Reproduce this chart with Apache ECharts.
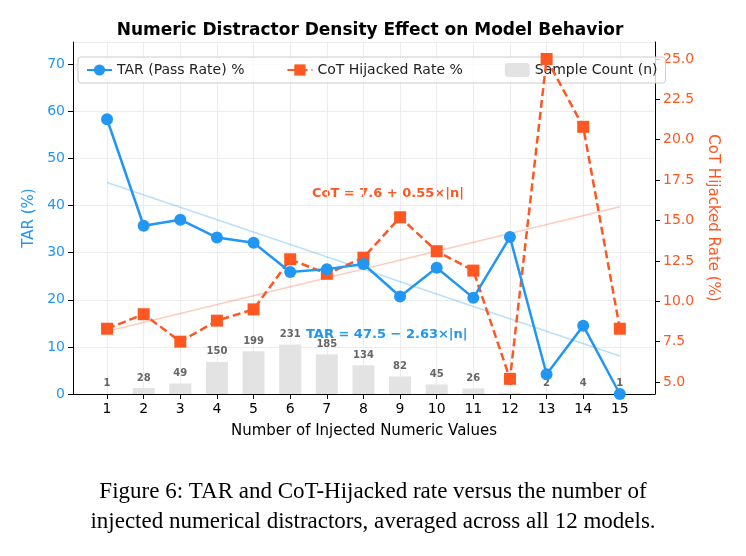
<!DOCTYPE html>
<html><head><meta charset="utf-8">
<script src="https://cdn.jsdelivr.net/npm/echarts@6/dist/echarts.min.js"></script>
<style>body{margin:0;background:#fff}#c{width:746px;height:556px}</style>
</head><body><div id="c"></div>
<script>
const nValues=[1,2,3,4,5,6,7,8,9,10,11,12,13,14,15];
const tar=[58.3,35.7,37.0,33.2,32.1,25.9,26.5,27.6,20.7,26.8,20.4,33.3,4.2,14.5,0.0];
const cot=[8.3,9.2,7.5,8.8,9.5,12.6,11.7,12.7,15.2,13.1,11.9,5.2,25.0,20.8,8.3];
const counts=[1,28,49,150,199,231,185,134,82,45,26,6,2,4,1];
const cotTicks=[5,7.5,10,12.5,15,17.5,20,22.5,25];
const tarFit=[47.5,-2.63], cotFit=[7.6,0.55];
const B='#2196F3', O='#FF5722';
const fitLine=(f)=>[[1,f[0]+f[1]*1],[15,f[0]+f[1]*15]];
const chart=echarts.init(document.getElementById('c'));
chart.setOption({
 animation:false,
 title:{text:'Numeric Distractor Density Effect on Model Behavior',left:365,top:17,textAlign:'center',textStyle:{fontFamily:'DejaVu Sans',fontSize:17,fontWeight:'bold',color:'#000'}},
 grid:{left:73,right:91,top:42,bottom:162},
 legend:{left:78,top:57,itemGap:42,borderColor:'#ccc',borderWidth:1,borderRadius:3,padding:[6,8],backgroundColor:'rgba(255,255,255,0.8)',
   textStyle:{fontFamily:'DejaVu Sans',fontSize:14,color:'#222'},
   data:['TAR (Pass Rate) %','CoT Hijacked Rate %','Sample Count (n)']},
 xAxis:{type:'value',min:0.07,max:15.96,name:'Number of Injected Numeric Values',nameLocation:'middle',nameGap:30,
   nameTextStyle:{fontFamily:'DejaVu Sans',fontSize:15,color:'#000'},
   axisLine:{onZero:false,lineStyle:{color:'#000'}},
   axisTick:{customValues:nValues,lineStyle:{color:'#000'}},
   axisLabel:{customValues:nValues,fontFamily:'DejaVu Sans',fontSize:14,color:'#000'},
   splitLine:{show:true,lineStyle:{color:'#ececec'}}},
 yAxis:[
  {type:'value',min:0,max:74.7,interval:10,name:'TAR (%)',nameLocation:'middle',nameGap:35,nameTextStyle:{fontFamily:'DejaVu Sans',fontSize:15,color:B},
   axisLine:{show:true,lineStyle:{color:'#000'}},axisTick:{show:true},axisLabel:{fontFamily:'DejaVu Sans',fontSize:14,color:B,showMaxLabel:false},
   splitLine:{lineStyle:{color:'#ececec'}}},
  {type:'value',min:4.26,max:26.05,name:'CoT Hijacked Rate (%)',nameLocation:'middle',nameGap:48,nameRotate:-90,
   nameTextStyle:{fontFamily:'DejaVu Sans',fontSize:15,color:O},
   axisLine:{show:true,lineStyle:{color:'#000'}},axisTick:{show:true,customValues:cotTicks},
   axisLabel:{fontFamily:'DejaVu Sans',fontSize:14,color:O,customValues:cotTicks,formatter:v=>v.toFixed(1)},
   splitLine:{show:false}},
  {type:'value',min:0,max:1643,show:false}
 ],
 series:[
  {name:'Sample Count (n)',type:'bar',yAxisIndex:2,barWidth:22,data:nValues.map((x,i)=>[x,counts[i]]),
   itemStyle:{color:'#e3e3e3'},label:{show:true,position:'top',fontSize:10,fontWeight:'bold',color:'#666',fontFamily:'DejaVu Sans'}},
  {name:'tarfit',type:'line',data:fitLine(tarFit),symbol:'none',lineStyle:{color:B,opacity:0.3,width:1.5},silent:true},
  {name:'cotfit',type:'line',yAxisIndex:1,data:fitLine(cotFit),symbol:'none',lineStyle:{color:O,opacity:0.3,width:1.5},silent:true},
  {name:'TAR (Pass Rate) %',type:'line',data:nValues.map((x,i)=>[x,tar[i]]),color:B,lineStyle:{width:2.5},symbol:'circle',symbolSize:12,itemStyle:{color:B},z:5},
  {name:'CoT Hijacked Rate %',type:'line',yAxisIndex:1,data:nValues.map((x,i)=>[x,cot[i]]),color:O,lineStyle:{width:2.5,type:[8,4]},symbol:'rect',symbolSize:12,itemStyle:{color:O},z:4}
 ],
 graphic:[
  {type:'text',left:312,top:187,style:{text:'CoT = 7.6 + 0.55×|n|',fill:O,font:'bold 13px DejaVu Sans'}},
  {type:'text',left:306,top:328,z:10,style:{text:'TAR = 47.5 − 2.63×|n|',fill:B,font:'bold 13px DejaVu Sans'}},
  {type:'text',x:373,y:477,style:{text:'Figure 6: TAR and CoT-Hijacked rate versus the number of\ninjected numerical distractors, averaged across all 12 models.',fill:'#000',font:'23px Liberation Serif',align:'center',lineHeight:30}}
 ]
});
</script></body></html>
